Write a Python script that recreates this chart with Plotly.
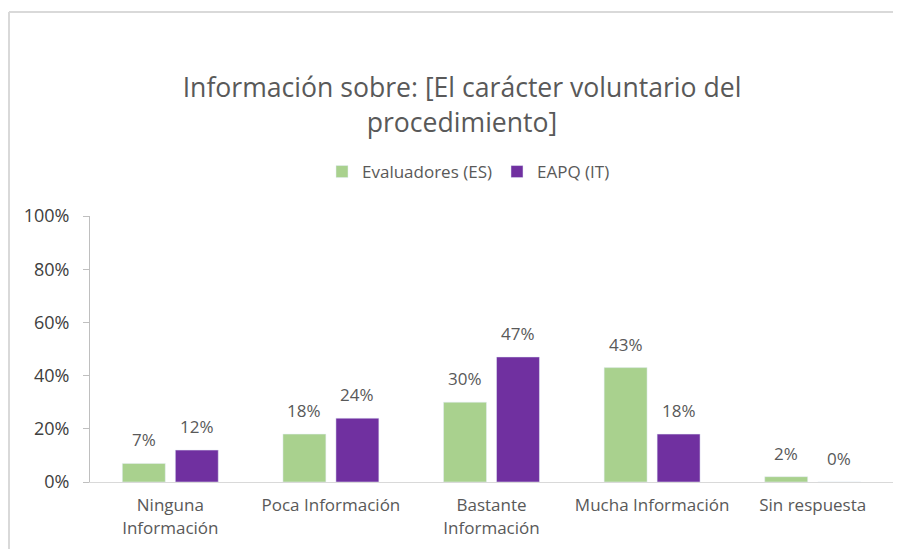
import plotly.graph_objects as go

# categories and values (percent)
categorias = ["Ninguna<br>Información", "Poca Información", "Bastante<br>Información",
              "Mucha Información", "Sin respuesta"]
evaluadores_es = [7, 18, 30, 43, 2]
eapq_it = [12, 24, 47, 18, 0]
y_ticks = [0, 20, 40, 60, 80, 100]

# the page adds an 8px body margin, so the figure is drawn 8px smaller
O = 8
W, H = 901 - O, 549 - O
ml, mr, mt, mb = 82, 8, 208, 67
pw, ph = W - ml - mr, H - mt - mb


def px(x):
    # screen x -> paper fraction
    return (x - O - ml) / pw


def py(y):
    # screen y -> paper fraction
    return (H - mb - (y - O)) / ph


font_fam = "Open Sans, Noto Sans, sans-serif"
label_col = "#595959"

trace_es = go.Bar(x=categorias, y=evaluadores_es, name="Evaluadores (ES)",
                  marker=dict(color="#a9d18e"))
trace_it = go.Bar(x=categorias, y=eapq_it, name="EAPQ (IT)",
                  marker=dict(color="#7030a0"))

fig = go.Figure(data=[trace_es, trace_it])

# data labels above each bar (half a slot left / right of the category centre)
slot = pw / len(categorias) * (1 - 0.34) / 2
annotations = []
for vals, shift in [(evaluadores_es, -slot / 2), (eapq_it, slot / 2)]:
    for cat, v in zip(categorias, vals):
        annotations.append(dict(x=cat, y=v, xref="x", yref="y", text=f"{v}%",
                                showarrow=False, xshift=shift, yshift=10,
                                yanchor="bottom",
                                font=dict(size=17, color=label_col)))

fig.update_layout(
    width=W, height=H,
    margin=dict(l=ml, r=mr, t=mt, b=mb),
    paper_bgcolor="white", plot_bgcolor="white",
    font=dict(family=font_fam, color=label_col),
    title=dict(text="Información sobre: [El carácter voluntario del<br>procedimiento]",
               x=(462 - O) / W, xanchor="center", y=1 - 89 / H, yanchor="middle",
               font=dict(size=26.6, color=label_col)),
    barmode="group", bargap=0.34, bargroupgap=0.19,
    legend=dict(orientation="h", x=px(322), xanchor="left",
                y=py(172), yanchor="middle",
                font=dict(size=17, color=label_col),
                itemwidth=30, traceorder="normal"),
    showlegend=True,
    annotations=annotations,
    xaxis=dict(showline=True, linecolor="#d9d9d9", linewidth=1,
               tickfont=dict(size=17, color=label_col), ticks="",
               ticklabelstandoff=8,
               showgrid=False, automargin=False),
    yaxis=dict(range=[0, 100], tickvals=y_ticks, ticktext=[f"{v}%" for v in y_ticks],
               showline=True, linecolor="#bfbfbf", linewidth=1,
               ticks="outside", ticklen=6, tickcolor="#bfbfbf",
               ticklabelstandoff=10,
               tickfont=dict(size=18, color="#404040"),
               showgrid=False, zeroline=False, automargin=False),
    shapes=[
        dict(type="line", xref="paper", yref="paper",
             x0=px(9), x1=px(910), y0=py(12), y1=py(12),
             line=dict(color="#d9d9d9", width=2)),
        dict(type="line", xref="paper", yref="paper",
             x0=px(9), x1=px(9), y0=py(12), y1=py(560),
             line=dict(color="#d9d9d9", width=2)),
    ],
)

fig.write_html("out.html")
